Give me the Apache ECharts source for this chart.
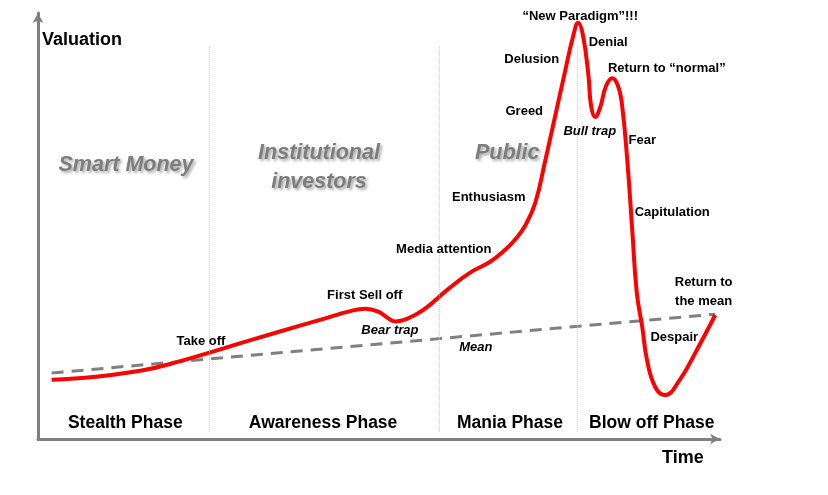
<!DOCTYPE html>
<html>
<head>
<meta charset="utf-8">
<script src="https://cdn.jsdelivr.net/npm/echarts@6/dist/echarts.min.js"></script>
<style>
html,body{margin:0;padding:0;background:#fff;}
#chart{width:828px;height:495px;}
</style>
</head>
<body>
<div id="chart"></div>
<script>
// Bubble cycle curve (Time, Valuation) in arbitrary units 0..100
var cycleX = [2.0, 8.4, 15.0, 19.8, 31.8, 38.4, 42.5, 45.5, 48.0, 49.9, 51.3, 52.4, 54.1, 56.5, 60.0, 63.3, 66.3, 68.5, 69.9, 71.4, 72.9, 74.3, 75.8, 77.3, 78.5, 79.2, 79.9, 80.7, 81.1, 81.7, 82.4, 83.3, 84.2, 85.0, 85.6, 86.4, 87.1, 87.8, 88.6, 89.3, 90.5, 91.9, 94.1, 96.6, 99.3];
var cycleY = [13.9, 14.6, 16.0, 17.8, 23.5, 26.6, 28.5, 29.9, 30.6, 29.9, 28.4, 27.6, 28.2, 30.3, 35.0, 39.0, 41.6, 44.4, 46.7, 50.0, 55.4, 64.8, 75.6, 86.4, 94.8, 97.7, 94.8, 85.5, 78.2, 75.6, 77.7, 82.9, 84.7, 83.1, 78.9, 65.5, 49.8, 34.3, 26.3, 18.5, 12.2, 10.3, 13.9, 20.9, 29.1];

// Long-run mean (start, end)
var meanX = [2.0, 99.3];
var meanY = [15.5, 29.3];

// Phase boundaries on the time axis
var dividerX = [25.1, 58.8, 79.0];
var dividerY = [1.6, 92.3];

// Phase names along the bottom
var phaseNames = ['Stealth Phase', 'Awareness Phase', 'Mania Phase', 'Blow off Phase'];
var phaseX = [12.8, 41.8, 69.2, 90.0];
var phaseY = [3.8, 3.8, 3.8, 3.8];

// Investor groups
var groupNames = ['Smart Money', 'Institutional\ninvestors', 'Public'];
var groupX = [12.9, 41.2, 68.8];
var groupY = [64.3, 63.7, 67.1];

// Sentiment annotations (upright)
var noteNames = ['Take off', 'First Sell off', 'Media attention', 'Enthusiasm', 'Greed', 'Delusion', '\u201cNew Paradigm\u201d!!!', 'Denial', 'Return to \u201cnormal\u201d', 'Fear', 'Capitulation', 'Return to\nthe mean', 'Despair'];
var noteX = [23.9, 47.9, 59.5, 66.1, 71.3, 72.4, 79.5, 83.6, 92.2, 88.6, 93.0, 97.6, 93.3];
var noteY = [22.8, 33.6, 44.6, 56.6, 76.8, 89.2, 99.3, 93.0, 86.9, 70.0, 53.1, 34.5, 23.9];

// Italic annotations
var italicNames = ['Bear trap', 'Mean', 'Bull trap'];
var italicX = [51.6, 64.2, 80.9];
var italicY = [25.6, 21.4, 72.1];

function zip(xs, ys) { return xs.map(function (x, i) { return [x, ys[i]]; }); }
function labelled(names, xs, ys) { return names.map(function (n, i) { return { name: n, value: [xs[i], ys[i]] }; }); }

var chart = echarts.init(document.getElementById('chart'), null, { renderer: 'canvas' });

var sans = '"Liberation Sans", Arial, sans-serif';

function labelSeries(data, textStyle, z) {
  return {
    type: 'scatter',
    symbolSize: 0,
    silent: true,
    z: z || 10,
    itemStyle: { opacity: 1 },
    data: data,
    label: Object.assign({
      show: true,
      position: 'inside',
      formatter: '{b}',
      align: 'center',
      verticalAlign: 'middle'
    }, textStyle)
  };
}

var option = {
  animation: false,
  backgroundColor: '#ffffff',
  grid: { left: 38, right: 108, top: 13, bottom: 56, containLabel: false },
  xAxis: {
    type: 'value', min: 0, max: 100,
    name: 'Time', nameLocation: 'end', nameGap: -58,
    nameTextStyle: { fontFamily: sans, fontWeight: 'bold', fontSize: 18, color: '#000', align: 'left', verticalAlign: 'top', padding: [10, 0, 0, 0] },
    axisLine: { show: true, symbol: ['none', 'arrow'], symbolSize: [8, 10], lineStyle: { color: '#808080', width: 3 } },
    axisTick: { show: false }, axisLabel: { show: false }, splitLine: { show: false }
  },
  yAxis: {
    type: 'value', min: 0, max: 100,
    name: 'Valuation', nameLocation: 'end', nameGap: -27,
    nameTextStyle: { fontFamily: sans, fontWeight: 'bold', fontSize: 18, color: '#000', align: 'left', verticalAlign: 'middle', padding: [0, 0, 0, 4] },
    axisLine: { show: true, symbol: ['none', 'arrow'], symbolSize: [8, 10], lineStyle: { color: '#808080', width: 3 } },
    axisTick: { show: false }, axisLabel: { show: false }, splitLine: { show: false }
  },
  series: [
    {
      type: 'line', silent: true, symbol: 'none', z: 1,
      data: [],
      markLine: {
        silent: true, symbol: ['none', 'none'], label: { show: false },
        lineStyle: { color: '#c8c8c8', type: 'dotted', width: 1 },
        data: dividerX.map(function (x) { return [{ coord: [x, dividerY[0]] }, { coord: [x, dividerY[1]] }]; })
      }
    },
    {
      type: 'line', silent: true, symbol: 'none', z: 2,
      data: zip(meanX, meanY),
      lineStyle: { color: '#808080', width: 3, type: [12, 8] }
    },
    {
      type: 'line', silent: true, symbol: 'none', z: 3,
      smooth: 0.45,
      data: zip(cycleX, cycleY),
      lineStyle: { color: '#ff0000', width: 4 }
    },
    labelSeries(labelled(phaseNames, phaseX, phaseY), { fontFamily: sans, fontWeight: 'bold', fontSize: 17.5, color: '#000' }),
    labelSeries(labelled(groupNames, groupX, groupY), { fontFamily: sans, fontWeight: 'bold', fontStyle: 'italic', fontSize: 21.5, lineHeight: 29, color: '#7d7d7d', textShadowColor: 'rgba(0,0,0,0.35)', textShadowBlur: 3, textShadowOffsetX: 2, textShadowOffsetY: 2 }),
    labelSeries(labelled(noteNames, noteX, noteY), { fontFamily: sans, fontWeight: 'bold', fontSize: 13, lineHeight: 19, color: '#000' }),
    labelSeries(labelled(italicNames, italicX, italicY), { fontFamily: sans, fontWeight: 'bold', fontStyle: 'italic', fontSize: 13, color: '#000' })
  ]
};

chart.setOption(option);
</script>
</body>
</html>
